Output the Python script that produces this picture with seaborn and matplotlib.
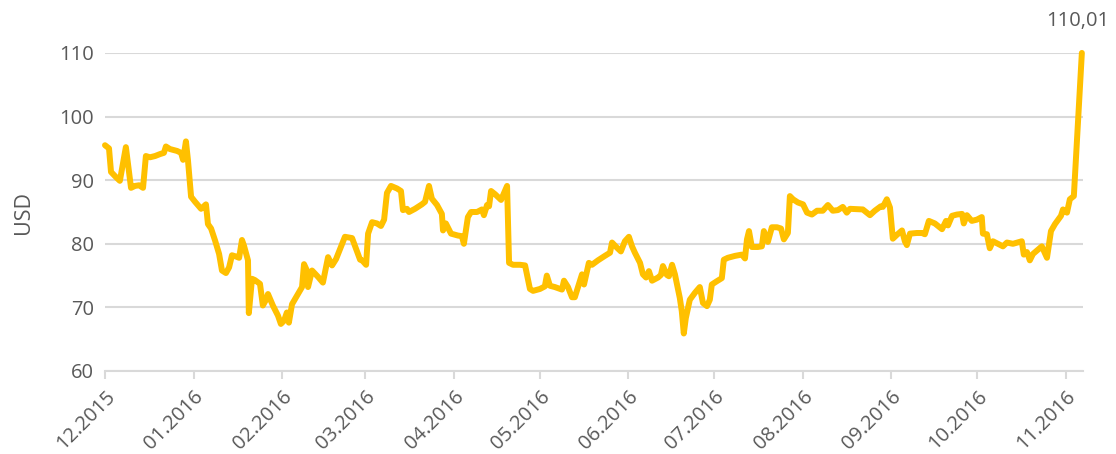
import numpy as np
import pandas as pd
import matplotlib
matplotlib.use("Agg")
import matplotlib.pyplot as plt
import matplotlib.dates as mdates
import seaborn as sns

start_date = "2015-12-01"
end_date = "2016-11-07"

days = [0, 1.4, 2.1, 3.8, 5.2, 7.3, 9.1, 10.5, 11.9, 13.3, 14.3, 15.7, 17.5, 19.2, 20.6, 21.3,
        22.7, 25.2, 26.6, 27.3, 28.3, 29.0, 30.1, 31.5, 33.6, 35.3, 36.0, 37.1, 38.5, 39.9,
        40.9, 42.3, 43.4, 44.4, 45.8, 46.9, 47.9, 48.6, 50.0, 50.3, 51.4, 52.4, 54.2, 55.2,
        56.3, 57.0, 58.7, 60.5, 61.5, 62.6, 63.6, 64.3, 65.4, 67.1, 68.9, 69.6, 70.6, 71.0,
        72.4, 74.5, 76.2, 78.0, 79.4, 80.8, 82.2, 83.9, 86.4, 89.2, 89.9, 91.3, 92.0, 93.4,
        95.1, 96.5, 97.6, 98.6, 100.0, 102.1, 103.5, 104.2, 105.6, 106.3, 108.4, 110.8,
        111.9, 113.3, 114.3, 116.1, 117.8, 118.2, 119.2, 121.0, 123.4, 124.8, 125.5, 126.9,
        128.0, 130.1, 131.8, 132.5, 133.6, 134.3, 135.0, 136.4, 138.5, 140.6, 141.3, 142.7,
        145.1, 146.9, 148.6, 149.7, 152.1, 153.8, 154.5, 155.6, 157.3, 159.8, 160.5, 161.9,
        163.3, 164.3, 166.8, 167.5, 169.2, 170.3, 172.4, 174.8, 176.6, 177.3, 179.0, 180.4,
        181.8, 183.2, 184.3, 185.3, 187.1, 188.1, 189.2, 190.2, 191.3, 193.4, 194.4, 195.1,
        196.5, 197.2, 198.3, 199.3, 201.0, 201.7, 202.4, 203.1, 204.5, 206.3, 208.0, 209.1,
        210.5, 211.5, 212.2, 213.9, 215.7, 216.4, 217.8, 220.3, 222.7, 223.8, 224.5, 225.2,
        226.2, 228.3, 229.7, 230.4, 231.8, 233.2, 235.0, 236.4, 237.4, 238.8, 239.5, 240.6,
        242.3, 244.1, 245.5, 247.2, 249.0, 251.0, 252.8, 254.5, 256.3, 258.0, 259.4, 260.5,
        265.0, 267.5, 269.2, 271.3, 272.0, 273.4, 274.5, 275.5, 276.9, 278.7, 279.7, 280.4,
        281.5, 283.9, 285.7, 286.7, 288.1, 290.2, 292.7, 294.1, 294.8, 296.2, 297.9, 299.7,
        300.3, 301.4, 303.1, 304.9, 306.6, 307.0, 308.4, 309.4, 310.5, 314.0, 315.4, 317.5,
        320.6, 321.3, 322.4, 323.4, 324.5, 327.6, 329.4, 330.8, 332.2, 334.3, 335.0, 336.4,
        337.4, 338.8, 341.6]

price = [95.5, 95.0, 91.3, 90.5, 89.9, 95.2, 88.8, 89.1, 89.2, 88.8, 93.8, 93.6, 93.8, 94.1, 94.3, 95.3,
         94.9, 94.6, 94.3, 93.2, 96.1, 93.2, 87.4, 86.6, 85.5, 86.2, 83.1, 82.4, 80.5, 78.4,
         75.8, 75.4, 76.3, 78.2, 78.0, 77.8, 80.6, 79.7, 77.4, 69.1, 74.5, 74.3, 73.7, 70.3,
         71.2, 72.1, 70.3, 68.7, 67.4, 67.9, 69.2, 67.6, 70.5, 71.8, 73.2, 76.8, 75.8, 73.2,
         75.8, 74.8, 73.9, 77.9, 76.6, 77.6, 79.2, 81.1, 80.9, 77.5, 77.4, 76.7, 81.6, 83.4,
         83.2, 82.8, 83.8, 88.0, 89.1, 88.7, 88.3, 85.3, 85.5, 85.0, 85.5, 86.2,
         86.6, 89.1, 87.1, 86.1, 84.7, 82.1, 83.2, 81.6, 81.3, 81.2, 80.0, 84.2,
         85.0, 85.0, 85.4, 84.5, 86.1, 85.9, 88.3, 87.8, 86.9, 89.1, 77.0, 76.7,
         76.7, 76.6, 72.9, 72.6, 72.9, 73.3, 75.0, 73.4, 73.2, 72.8, 74.2, 73.2,
         71.6, 71.6, 75.2, 73.6, 77.0, 76.7, 77.4, 78.1, 78.6, 80.2, 79.4, 78.8,
         80.4, 81.1, 79.6, 78.6, 77.0, 75.2, 74.7, 75.7, 74.2, 74.7, 75.1, 76.5,
         75.1, 74.9, 76.7, 75.2, 71.5, 69.4, 65.9, 68.3, 71.2, 72.3, 73.2, 70.7,
         70.2, 71.2, 73.6, 74.1, 74.6, 77.5, 77.8, 78.1, 78.3, 77.7, 80.7, 82.0,
         79.5, 79.5, 79.6, 82.0, 80.3, 82.6, 82.6, 82.4, 80.7, 81.7, 87.5, 87.0,
         86.5, 86.2, 84.9, 84.6, 85.2, 85.2, 86.1, 85.2, 85.3, 85.8, 84.9, 85.5,
         85.4, 84.5, 85.2, 85.9, 85.8, 87.0, 85.7, 80.8, 81.4, 82.1, 80.4, 79.8,
         81.6, 81.7, 81.7, 81.5, 83.6, 83.2, 82.3, 83.6, 82.9, 84.4, 84.6, 84.7,
         83.2, 84.5, 83.6, 83.8, 84.2, 81.6, 81.5, 79.3, 80.4, 79.6, 80.2, 80.0,
         80.4, 78.3, 78.7, 77.4, 78.4, 79.6, 77.8, 82.0, 83.1, 84.4, 85.4, 84.9,
         87.0, 87.5, 110.01]

yticks = [60, 70, 80, 90, 100, 110]
y_label = "USD"
last_label = "110,01"

df = pd.DataFrame({
    "date": pd.to_datetime(start_date) + pd.to_timedelta(days, unit="D"),
    "price": price,
})

sns.set_style("white")
plt.rcParams["font.family"] = ["Open Sans", "DejaVu Sans"]

GRAY = "#595959"
GRID = "#D9D9D9"
GOLD = "#FFC000"

fig = plt.figure(figsize=(11.16, 4.54), dpi=100)
ax = fig.add_axes([105 / 1116, 1 - 371 / 454, (1083 - 105) / 1116, (371 - 53) / 454])

sns.lineplot(data=df, x="date", y="price", ax=ax, color=GOLD, linewidth=4.3,
             estimator=None, sort=False, clip_on=False, solid_joinstyle="round",
             solid_capstyle="round", zorder=3)

ax.set_xlim(pd.to_datetime(start_date), pd.to_datetime(end_date))
ax.set_ylim(yticks[0], yticks[-1])
ax.set_yticks(yticks)
ax.yaxis.grid(True, color=GRID, linewidth=1.5)
ax.set_axisbelow(True)

ax.xaxis.set_major_locator(mdates.MonthLocator())
ax.xaxis.set_major_formatter(mdates.DateFormatter("%m.%Y"))
for lab in ax.get_xticklabels():
    lab.set_rotation(45)
    lab.set_ha("right")
    lab.set_rotation_mode("anchor")

ax.tick_params(axis="x", colors=GRID, length=6, width=1.5, direction="out", labelsize=14.5,
               labelcolor=GRAY, pad=5, bottom=True)
ax.tick_params(axis="y", length=0, labelsize=14.5, labelcolor=GRAY, pad=8)

for s in ["top", "right", "left"]:
    ax.spines[s].set_visible(False)
ax.spines["bottom"].set_color(GRID)
ax.spines["bottom"].set_linewidth(1.5)

ax.set_xlabel("")
ax.set_ylabel(y_label, fontsize=15.5, color=GRAY, labelpad=18)

ax.annotate(last_label, xy=(df["date"].iloc[-1], df["price"].iloc[-1]),
            xytext=(-3, 16), textcoords="offset points", ha="center", va="bottom",
            fontsize=14.5, color=GRAY)

fig.savefig("out.png", dpi=100)
